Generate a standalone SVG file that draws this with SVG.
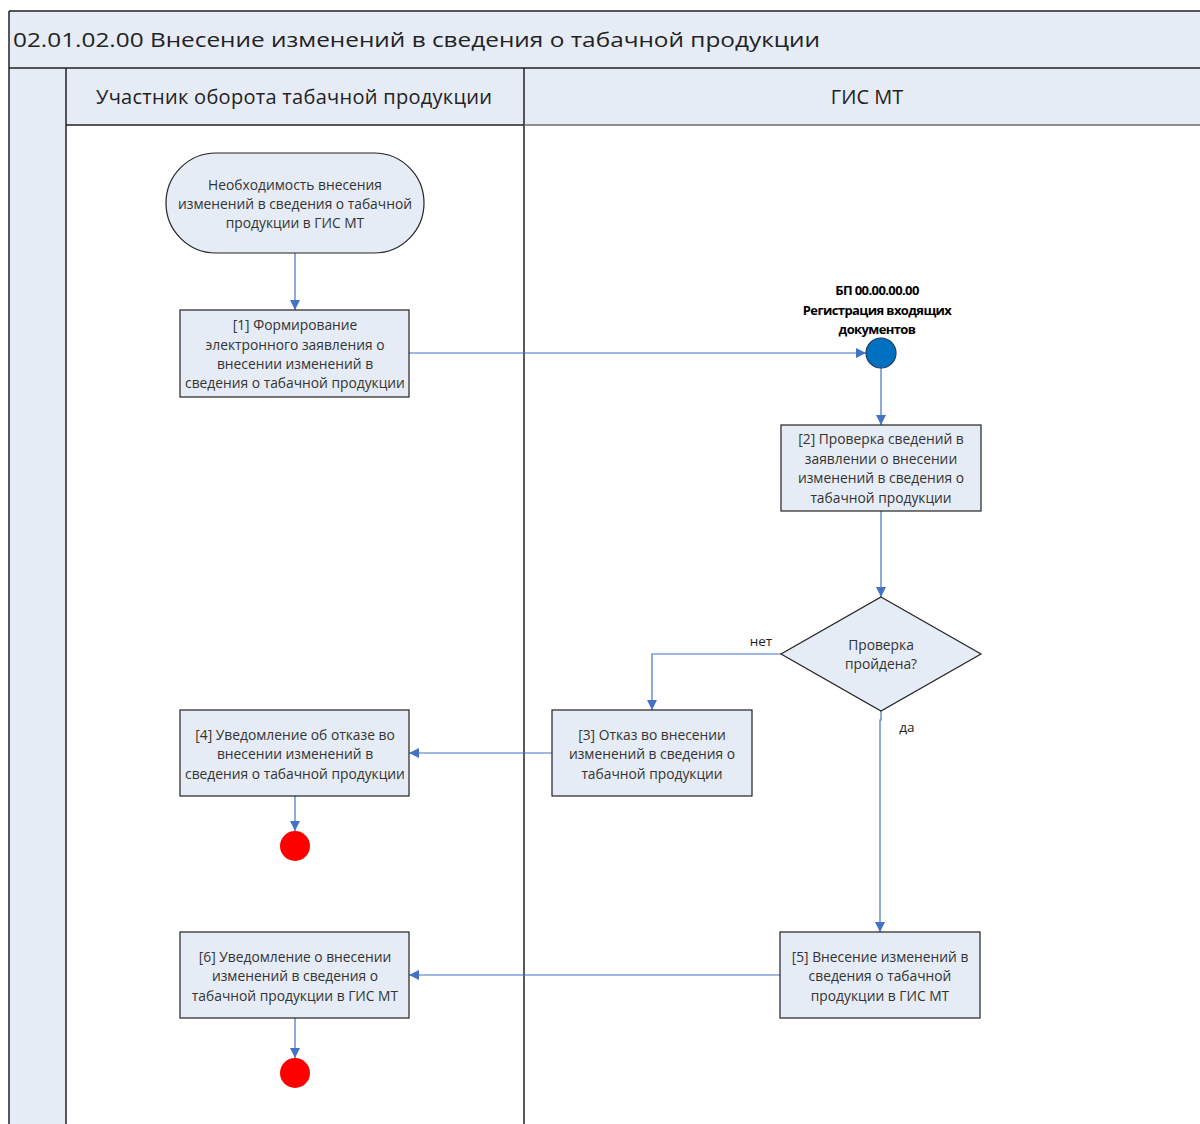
<svg xmlns="http://www.w3.org/2000/svg" width="1200" height="1124" viewBox="0 0 1200 1124">
<defs>
<marker id="arr" viewBox="0 0 10 10" refX="10" refY="5" markerWidth="10" markerHeight="10" markerUnits="userSpaceOnUse" orient="auto">
<path d="M0,0 L10,5 L0,10 z" fill="#4472C4"/>
</marker>
</defs>
<style>
.band{fill:#E6ECF6;stroke:none}
.frame{stroke:#222;stroke-width:1.5;fill:none}
.box{fill:#E6ECF6;stroke:#222;stroke-width:1.2}
.t{font-family:"Open Sans","Noto Sans","DejaVu Sans",sans-serif;font-size:13.8px;fill:#333;text-anchor:middle;dominant-baseline:central}
.hdr{font-family:"Open Sans","Noto Sans","DejaVu Sans",sans-serif;font-size:20px;fill:#222;dominant-baseline:central}
.lbl{font-family:"Open Sans","Noto Sans","DejaVu Sans",sans-serif;font-size:13.5px;fill:#222;dominant-baseline:central}
.bp{font-family:"Open Sans","Noto Sans","DejaVu Sans",sans-serif;font-size:13px;font-weight:bold;fill:#000;text-anchor:middle;dominant-baseline:central;letter-spacing:-0.6px}
.c{stroke:#4472C4;stroke-width:1.2;fill:none}
</style>
<rect x="0" y="0" width="1200" height="1124" fill="#fff"/>
<g id="pool">
<rect class="band" x="9" y="11" width="1191" height="114"/>
<rect class="band" x="9" y="125" width="57" height="999"/>
<line class="frame" x1="9" y1="11" x2="1200" y2="11"/>
<line class="frame" x1="9" y1="11" x2="9" y2="1124"/>
<line class="frame" x1="9" y1="68" x2="1200" y2="68"/>
<line class="frame" x1="66" y1="68" x2="66" y2="1124"/>
<line class="frame" x1="524" y1="68" x2="524" y2="1124"/>
<line class="frame" x1="66" y1="125" x2="524" y2="125"/>
<line x1="524" y1="125" x2="1200" y2="125" stroke="#6E6E6E" stroke-width="1.5"/>
<text class="hdr" x="13" y="39" font-size="25" textLength="807" lengthAdjust="spacingAndGlyphs">02.01.02.00 Внесение изменений в сведения о табачной продукции</text>
<text class="hdr" x="294" y="96" text-anchor="middle" textLength="396" lengthAdjust="spacing">Участник оборота табачной продукции</text>
<text class="hdr" x="867" y="96" text-anchor="middle">ГИС МТ</text>
</g>
<g id="connectors">
<line class="c" x1="295" y1="253" x2="295" y2="310" marker-end="url(#arr)"/>
<line class="c" x1="409" y1="353" x2="866" y2="353" marker-end="url(#arr)"/>
<line class="c" x1="881" y1="368" x2="881" y2="425" marker-end="url(#arr)"/>
<line class="c" x1="881" y1="511" x2="881" y2="597" marker-end="url(#arr)"/>
<polyline class="c" points="781,654 652,654 652,710" marker-end="url(#arr)"/>
<line class="c" x1="552" y1="753" x2="409" y2="753" marker-end="url(#arr)"/>
<line class="c" x1="295" y1="796" x2="295" y2="831" marker-end="url(#arr)"/>
<polyline class="c" points="881,711 881,720 880,720 880,932" marker-end="url(#arr)"/>
<line class="c" x1="780" y1="975" x2="409" y2="975" marker-end="url(#arr)"/>
<line class="c" x1="295" y1="1018" x2="295" y2="1058" marker-end="url(#arr)"/>
<text class="lbl" x="761" y="641" text-anchor="middle">нет</text>
<text class="lbl" x="907" y="727" text-anchor="middle">да</text>
</g>
<g id="start">
<rect class="box" x="166" y="153" width="258" height="100" rx="50" ry="50"/>
<text class="t" x="295" y="184">Необходимость внесения</text>
<text class="t" x="295" y="203">изменений в сведения о табачной</text>
<text class="t" x="295" y="222">продукции в ГИС МТ</text>
</g>
<g id="n1">
<rect class="box" x="180" y="310" width="229" height="87"/>
<text class="t" x="295" y="324">[1] Формирование</text>
<text class="t" x="295" y="344">электронного заявления о</text>
<text class="t" x="295" y="363">внесении изменений в</text>
<text class="t" x="295" y="382">сведения о табачной продукции</text>
</g>
<g id="bp">
<circle cx="881" cy="353" r="15" fill="#0070C0" stroke="#1F3A5F" stroke-width="1.2"/>
<text class="bp" x="877" y="290">БП 00.00.00.00</text>
<text class="bp" x="877" y="310">Регистрация входящих</text>
<text class="bp" x="877" y="329">документов</text>
</g>
<g id="n2">
<rect class="box" x="781" y="425" width="200" height="86"/>
<text class="t" x="881" y="438">[2] Проверка сведений в</text>
<text class="t" x="881" y="458">заявлении о внесении</text>
<text class="t" x="881" y="477">изменений в сведения о</text>
<text class="t" x="881" y="497">табачной продукции</text>
</g>
<g id="decision">
<polygon class="box" points="881,597 981,654 881,711 781,654"/>
<text class="t" x="881" y="644">Проверка</text>
<text class="t" x="881" y="663">пройдена?</text>
</g>
<g id="n3">
<rect class="box" x="552" y="710" width="200" height="86"/>
<text class="t" x="652" y="734">[3] Отказ во внесении</text>
<text class="t" x="652" y="753">изменений в сведения о</text>
<text class="t" x="652" y="773">табачной продукции</text>
</g>
<g id="n4">
<rect class="box" x="180" y="710" width="229" height="86"/>
<text class="t" x="295" y="734">[4] Уведомление об отказе во</text>
<text class="t" x="295" y="753">внесении изменений в</text>
<text class="t" x="295" y="773">сведения о табачной продукции</text>
</g>
<g id="end1">
<circle cx="295" cy="846" r="15" fill="#FF0000"/>
</g>
<g id="n5">
<rect class="box" x="780" y="932" width="200" height="86"/>
<text class="t" x="880" y="956">[5] Внесение изменений в</text>
<text class="t" x="880" y="975">сведения о табачной</text>
<text class="t" x="880" y="995">продукции в ГИС МТ</text>
</g>
<g id="n6">
<rect class="box" x="180" y="932" width="229" height="86"/>
<text class="t" x="295" y="956">[6] Уведомление о внесении</text>
<text class="t" x="295" y="975">изменений в сведения о</text>
<text class="t" x="295" y="995">табачной продукции в ГИС МТ</text>
</g>
<g id="end2">
<circle cx="295" cy="1073" r="15" fill="#FF0000"/>
</g>
</svg>
